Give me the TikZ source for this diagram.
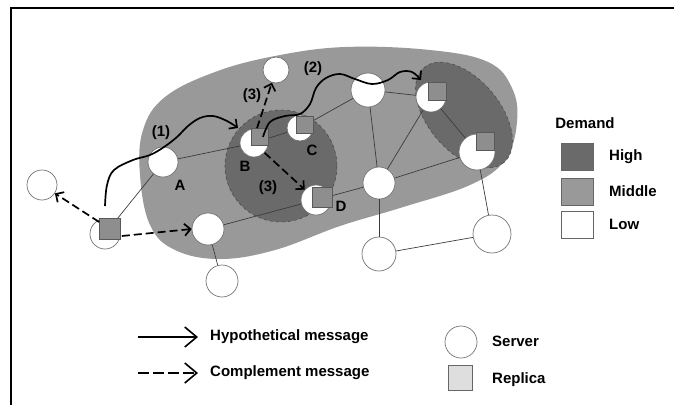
\documentclass[tikz,border=0pt]{standalone}
\usepackage{fontspec}
\setmainfont{Liberation Sans}
\usetikzlibrary{arrows.meta,calc}
\definecolor{midgray}{RGB}{153,153,153}
\definecolor{highgray}{RGB}{106,106,106}
\definecolor{repgray}{RGB}{142,142,142}
\definecolor{replight}{RGB}{222,222,222}
\definecolor{edgegray}{RGB}{60,60,60}
\begin{document}
\begin{tikzpicture}[x=1pt,y=-1pt,
  srv/.style={circle, draw=black!55, fill=white, line width=0.7pt, inner sep=0pt, minimum size=#1},
  rep/.style={rectangle, draw=black!65, fill=repgray, line width=0.6pt, inner sep=0pt, minimum size=#1},
  link/.style={draw=edgegray, line width=0.7pt},
  lbl/.style={font=\bfseries\fontsize{15}{18}\selectfont, inner sep=0pt},
  msgtip/.style={-{Straight Barb[length=6pt,width=12pt]}},
  bigtip/.style={-{Straight Barb[length=12pt,width=20pt]}},
  hyp/.style={line width=1.7pt, msgtip},
  comp/.style={line width=1.7pt, msgtip, dash pattern=on 8pt off 4pt},
  legbox/.style={rectangle, draw=black!60, line width=0.6pt, minimum width=32pt, minimum height=27pt, inner sep=0pt}]
\useasboundingbox (0,0) rectangle (674,405);
% frame
\draw[line width=2.5pt] (11,405) -- (11,8) -- (674,8);
% middle demand region
\fill[midgray] plot[smooth cycle, tension=0.65] coordinates {
 (140,175) (143,130) (165,97) (215,72) (275,56) (345,47) (430,50) (488,62)
 (512,88) (517,122) (505,160) (470,185) (400,208) (340,226) (275,250)
 (220,259) (175,250) (150,225)};
% high demand regions
\draw[fill=highgray, draw=black!70, dashed, line width=0.6pt] (281,166) circle (56);
\draw[fill=highgray, draw=black!70, dashed, line width=0.6pt, rotate around={-50:(464,115)}] (464,115) ellipse (62 and 36);
% servers
\node[srv=30pt] (s1) at (42,185) {};
\node[srv=30pt] (s2) at (105,234) {};
\node[srv=30pt] (A) at (163,162) {};
\node[srv=26pt] (T) at (276,70) {};
\node[srv=28pt] (B) at (254,143) {};
\node[srv=26pt] (C) at (300,128) {};
\node[srv=30pt] (D) at (316,200) {};
\node[srv=34pt] (E) at (368,90) {};
\node[srv=32pt] (F) at (379,183) {};
\node[srv=30pt] (G) at (431,97) {};
\node[srv=36pt] (H) at (477,152) {};
\node[srv=34pt] (I) at (379,254) {};
\node[srv=38pt] (J) at (492,234) {};
\node[srv=32pt] (K) at (208,229) {};
\node[srv=32pt] (L) at (222,281) {};
% links
\draw[link] (A) -- (B);
\draw[link] (B) -- (C);
\draw[link] (C) -- (E);
\draw[link] (A) -- (s2);
\draw[link] (K) -- (D);
\draw[link] (K) -- (L);
\draw[link] (D) -- (F);
\draw[link] (E) -- (G);
\draw[link] (E) -- (F);
\draw[link] (F) -- (G);
\draw[link] (G) -- (H);
\draw[link] (F) -- (H);
\draw[link] (H) -- (J);
\draw[link] (F) -- (I);
\draw[link] (I) -- (J);
% replicas
\node[rep=21pt] (s2r) at (110,229) {};
\node[rep=17pt] (Br) at (260,137) {};
\node[rep=17pt] (Cr) at (305,125) {};
\node[rep=20pt] (Dr) at (322,197) {};
\node[rep=18pt] (Gr) at (437,91) {};
\node[rep=18pt] (Hr) at (485,141) {};
% messages
\coordinate (h1s) at (105,206);
\coordinate (h1e) at (238,128);
\draw[hyp] plot[smooth, tension=0.6] coordinates {(h1s) (107,185) (114,170) (133,160) (150,155) (164,147) (177,137) (188,126) (200,118) (213,116) (227,121) (h1e)};
\coordinate (h2s) at (263,137);
\coordinate (h2e) at (421,80);
\draw[hyp] plot[smooth, tension=0.6] coordinates {(h2s) (270,122) (285,116) (300,114) (310,104) (316,88) (326,78) (340,74) (355,79) (372,84) (388,80) (400,72) (412,72) (h2e)};
\draw[comp] ($(Br.north)+(-3,0)$) -- (T);
\draw[comp] (B) -- (D);
\draw[comp] (s2r) -- (s1);
\draw[comp] ($(s2r.east)+(1,7)$) -- (K.west);
% labels
\node[lbl] (l1) at (161,133) {(1)};
\node[lbl] (l2) at (313,69) {(2)};
\node[lbl] (l3a) at (252,96) {(3)};
\node[lbl] (l3b) at (268,188) {(3)};
\node[lbl] (lA) at (180,185) {A};
\node[lbl] (lB) at (245,166) {B};
\node[lbl] (lC) at (312,150) {C};
\node[lbl] (lD) at (341,206) {D};
% demand legend
\node[lbl] (dem) at (585,123) {Demand};
\node[legbox, fill=highgray] (bh) at (577,157) {};
\node[legbox, fill=midgray] (bm) at (577,192) {};
\node[legbox, fill=white] (bl) at (577,225) {};
\node[lbl, anchor=west] (th) at (609,157) {High};
\node[lbl, anchor=west] (tm) at (609,191) {Middle};
\node[lbl, anchor=west] (tl) at (609,224) {Low};
% message legend
\coordinate (la1) at (138,337);
\coordinate (la2) at (198,337);
\coordinate (lb1) at (138,373);
\coordinate (lb2) at (198,373);
\draw[line width=1.6pt, bigtip] (la1) -- (la2);
\draw[line width=1.6pt, bigtip, dash pattern=on 11pt off 4pt] (lb1) -- (lb2);
\node[lbl, anchor=west] (th1) at (210,337) {Hypothetical message};
\node[lbl, anchor=west] (tc1) at (210,373) {Complement message};
\node[srv=32pt] (ls) at (461,342) {};
\node[rectangle, draw=black!60, fill=replight, line width=0.6pt, minimum width=24pt, minimum height=25pt, inner sep=0pt] (lr) at (460,378) {};
\node[lbl, anchor=west] (ts) at (492,341) {Server};
\node[lbl, anchor=west] (tr) at (492,380) {Replica};
\end{tikzpicture}
\end{document}
